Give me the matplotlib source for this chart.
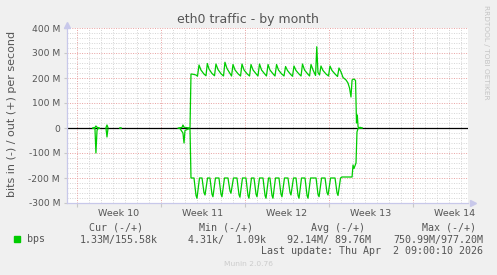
import numpy as np
import matplotlib
matplotlib.use("Agg")
import matplotlib.pyplot as plt

# days since Mon 2 Mar 2026 (start of Week 10), values in Mbit/s
nan = np.nan
out_t = [1.33, 1.50, 1.58, 1.67, 1.83, 1.9,
         2.42, 2.50, 2.58, 2.6,
         3.58, 3.67, 3.7,
         8.50, 8.75, 8.83, 8.92, 9.33, 9.42, 9.50, 9.67, 9.92, 10.04,
         10.17, 10.33, 10.58, 10.75, 10.86, 11.0, 11.25, 11.46, 11.58, 11.75,
         12.0, 12.21, 12.33, 12.5, 12.75, 12.88, 13.0, 13.17, 13.42, 13.63,
         13.75, 13.92, 14.17, 14.38, 14.5, 14.67, 14.92, 15.08, 15.21, 15.38,
         15.63, 15.79, 15.92, 16.08, 16.33, 16.5, 16.63, 16.79, 17.04, 17.25,
         17.38, 17.54, 17.79, 17.96, 18.08, 18.25, 18.5, 18.67, 18.79, 18.96,
         19.21, 19.38, 19.5, 19.67, 19.88, 19.98, 20.08, 20.21, 20.33, 20.5,
         20.75, 20.96, 21.08, 21.25, 21.5, 21.71, 21.83, 22.0, 22.17, 22.42,
         22.58, 22.71, 22.83, 22.92, 23.08, 23.21, 23.29, 23.36, 23.42, 23.5,
         23.58, 23.67, 23.75]
out_v = [0.5, 2, 8, 3, 0.5, nan,
         1, 12, 2, nan,
         0.3, 0.3, nan,
         0.5, 2, 12, 3, 0.5, 2, 216, 215, 212, 207,
         252, 232, 216, 209, 258, 236, 218, 209, 256, 234,
         217, 208, 263, 238, 218, 208, 254, 232, 217, 208,
         256, 232, 217, 208, 254, 232, 217, 208, 256, 232,
         217, 208, 254, 232, 217, 208, 254, 232, 217, 208,
         246, 230, 215, 207, 248, 230, 216, 208, 256, 232,
         217, 208, 254, 232, 210, 325, 222, 212, 248, 230,
         216, 208, 248, 230, 216, 206, 240, 224, 202, 192,
         180, 160, 124, 192, 196, 190, 20, 52, 5, 0,
         3, 1, 0]

in_t = [1.33, 1.50, 1.58, 1.67, 1.75, 1.88, 1.9,
        2.42, 2.50, 2.58, 2.6,
        3.58, 3.67, 3.7,
        8.42, 8.58, 8.83, 8.92, 9.0, 9.33, 9.42, 9.50,
        9.75, 9.92, 10.00, 10.21,
        10.42, 10.58, 10.67, 10.88,
        11.08, 11.25, 11.33, 11.54,
        11.83, 12.00, 12.08, 12.29,
        12.58, 12.75, 12.83, 13.04,
        13.33, 13.50, 13.58, 13.79,
        14.08, 14.25, 14.33, 14.54,
        14.75, 14.92, 15.00, 15.21,
        15.50, 15.67, 15.75, 15.96,
        16.08, 16.25, 16.33, 16.54,
        16.83, 17.00, 17.08, 17.29,
        17.58, 17.75, 17.83, 18.04,
        18.25, 18.42, 18.50, 18.71,
        19.00, 19.17, 19.25, 19.46,
        19.92, 20.08, 20.17, 20.38,
        20.67, 20.83, 20.92, 21.13,
        21.50, 21.67, 21.75, 21.96,
        22.08, 22.92, 23.0, 23.08, 23.25, 23.33, 23.42, 23.5, 23.75]
in_v = [-1, -3, -100, -10, -2, -1, nan,
        -2, -36, -4, nan,
        -1, -1, nan,
        -1, -2, -20, -60, -10, -3, -5, -200,
        -200, -270, -281, -200,
        -200, -258, -268, -200,
        -200, -265, -275, -200,
        -200, -265, -275, -200,
        -200, -252, -261, -200,
        -200, -267, -277, -200,
        -200, -270, -281, -200,
        -200, -265, -275, -200,
        -200, -270, -281, -200,
        -200, -270, -281, -200,
        -200, -265, -275, -200,
        -200, -258, -268, -200,
        -200, -270, -281, -200,
        -200, -270, -281, -200,
        -200, -265, -275, -200,
        -200, -258, -268, -200,
        -200, -260, -270, -200,
        -196, -196, -148, -162, -140, -16, -2, -1, 0]

week_starts = [0, 7, 14, 21, 28]
week_labels = ["Week 10", "Week 11", "Week 12", "Week 13", "Week 14"]
y_ticks = [-300, -200, -100, 0, 100, 200, 300, 400]

legend_head = ["Cur (-/+)", "Min (-/+)", "Avg (-/+)", "Max (-/+)"]
legend_vals = ["1.33M/155.58k", "4.31k/  1.09k", "92.14M/ 89.76M", "750.99M/977.20M"]

green = "#00cc00"
txt = "#555555"

fig = plt.figure(figsize=(4.97, 2.75), dpi=100, facecolor="#f0f0f0")
ax = fig.add_axes([67 / 497, 1 - 203 / 275, 401 / 497, 175 / 275])
ax.set_facecolor("white")
ax.set_xlim(-0.83, 32.58)
ax.set_ylim(-300, 400)

# grid: minor daily / 20M, major weekly / 100M
for d in range(0, 33):
    if d % 7 == 0:
        continue
    ax.axvline(d, color="#d4d4d4", lw=0.7, ls=(0, (1, 1.5)), zorder=1)
for v in range(-300, 401, 20):
    if v % 100 == 0:
        continue
    ax.axhline(v, color="#d4d4d4", lw=0.7, ls=(0, (1, 1.5)), zorder=1)
for d in week_starts:
    ax.axvline(d, color="#e8a0a0", lw=0.7, ls=(0, (1, 1.5)), zorder=1)
for v in y_ticks:
    ax.axhline(v, color="#e8a0a0", lw=0.7, ls=(0, (1, 1.5)), zorder=1)

ax.axhline(0, color="black", lw=0.9, zorder=2)
ax.plot(out_t, out_v, color=green, lw=0.9, zorder=3)
ax.plot(in_t, in_v, color=green, lw=0.9, zorder=3)

for s in ["top", "right"]:
    ax.spines[s].set_visible(False)
for s in ["left", "bottom"]:
    ax.spines[s].set_color("#c8c8ea")
    ax.spines[s].set_linewidth(0.9)
ax.plot([0], [1.02], marker="^", color="#c8c8ea", ms=4, transform=ax.transAxes, clip_on=False)
ax.plot([1.012], [0], marker=">", color="#c8c8ea", ms=4, transform=ax.transAxes, clip_on=False)

ax.set_yticks(y_ticks)
ax.set_yticklabels([("%d M" % v) if v != 0 else "0" for v in y_ticks])
ax.set_xticks(week_starts)
ax.set_xticklabels([])
ax.set_xticks([w + 3.5 for w in week_starts], minor=True)
ax.set_xticklabels(week_labels, minor=True)
ax.tick_params(axis="y", length=2, color="#c8c8c8", labelsize=6.6, labelcolor=txt, pad=3)
ax.tick_params(axis="x", which="major", length=3, color="#c8c8c8")
ax.tick_params(axis="x", which="minor", length=0, labelsize=6.8, labelcolor=txt, pad=4)

fig.text(248 / 497, 1 - 19 / 275, "eth0 traffic - by month", ha="center", va="center",
         fontsize=9, color=txt)
fig.text(12 / 497, 1 - 114 / 275, "bits in (-) / out (+) per second", ha="center", va="center",
         rotation=90, fontsize=8, color=txt)
fig.text(486 / 497, 1 - 52 / 275, "RRDTOOL / TOBI OETIKER", ha="center", va="center",
         rotation=270, fontsize=5.3, color="#c4c4c4")

mono = "DejaVu Sans Mono"
head_right = [143, 253, 365, 476]
val_right = [158, 266, 371, 483]
for h, x in zip(legend_head, head_right):
    fig.text(x / 497, 1 - 228 / 275, h, ha="right", va="center", family=mono, fontsize=7.2, color=txt)
for v, x in zip(legend_vals, val_right):
    fig.text(x / 497, 1 - 239.5 / 275, v, ha="right", va="center", family=mono, fontsize=7.2, color=txt)
fig.patches.append(plt.Rectangle((14 / 497, 1 - 242 / 275), 6 / 497, 6 / 275,
                                 transform=fig.transFigure, color=green, figure=fig))
fig.text(27 / 497, 1 - 239.5 / 275, "bps", ha="left", va="center", family=mono, fontsize=7.2, color=txt)
fig.text(483 / 497, 1 - 251.5 / 275, "Last update: Thu Apr  2 09:00:10 2026", ha="right", va="center",
         family=mono, fontsize=7.2, color=txt)
fig.text(248 / 497, 1 - 264 / 275, "Munin 2.0.76", ha="center", va="center", fontsize=5.4, color="#cccccc")

fig.savefig("out.png", dpi=100, facecolor=fig.get_facecolor())
